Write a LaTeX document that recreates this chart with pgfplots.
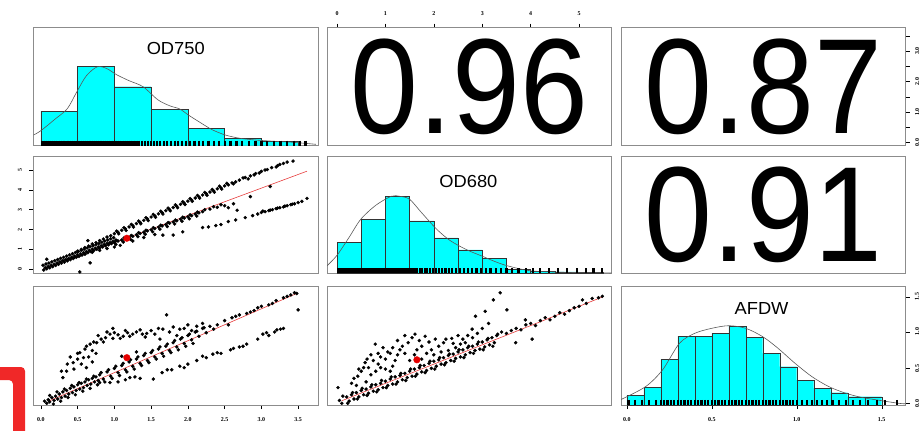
\documentclass[border=0pt]{standalone}
\usepackage{fontspec}
\setmainfont{Liberation Sans}
\newfontfamily\tickfont{Liberation Serif}
\usepackage{pgfplots}
\pgfplotsset{compat=1.18}
\definecolor{histcyan}{RGB}{0,255,255}
\definecolor{boxgray}{RGB}{140,140,140}
\definecolor{brightred}{RGB}{240,40,40}
\definecolor{fitred}{RGB}{230,60,60}
\tikzset{bignum/.style={font=\fontsize{136}{136}\selectfont, xscale=0.9, inner sep=0},
  varname/.style={font=\fontsize{17.5}{17.5}\selectfont, xscale=1.05, inner sep=0}}
\begin{document}
\begin{tikzpicture}
\useasboundingbox (0bp,0bp) rectangle (922bp,-431bp);
\pgfplotsset{
  panel/.style={scale only axis, width=284.5bp, axis line style={draw=boxgray, line width=0.7pt},
    xtick=\empty, ytick=\empty, tick align=outside, major tick length=4bp,
    tick style={black, line width=0.4pt},
    ticklabel style={font=\tickfont\bfseries\fontsize{6}{6}\selectfont},
    /pgf/number format/assume math mode=true, clip=true, anchor=south west},
  pts/.style={only marks, mark=*, mark size=1.55bp, mark options={draw=black, fill=black}},
  fit/.style={fitred, line width=0.6pt},
  mean/.style={only marks, mark=*, mark size=3.3bp, mark options={draw=red!90!black, fill=red!90!black}},
  hist/.style={ybar interval, fill=histcyan, draw=black!80, line width=0.4pt},
  dens/.style={draw=black!65, line width=0.6pt, smooth},
  rug/.style={only marks, mark=|, mark size=2.6bp, line width=2.2bp, mark options={draw=black, line width=2.2bp}},
  dec1/.style={/pgf/number format/.cd, fixed, fixed zerofill, precision=1},
}
% ---------- row 1 ----------
\begin{axis}[panel, at={(33.5bp,-145.7bp)}, height=118bp, xmin=-0.10, xmax=3.77, ymin=0, ymax=118]
\addplot[hist] coordinates {(0,34.7) (0.5,79.7) (1,59) (1.5,36.4) (2,17.4) (2.5,7.4) (3,4.7) (3.5,4.7)};
\addplot[dens] coordinates {(-0.1,10.7) (0,15) (0.2,27) (0.36,37) (0.49,54) (0.62,70) (0.77,79) (0.9,77) (1.03,71) (1.2,65) (1.39,59) (1.59,46) (1.75,40) (1.89,36.7) (2.0,31) (2.15,24) (2.33,16) (2.51,10.7) (2.7,7.5) (2.92,5.7) (3.2,4.3) (3.43,3.4) (3.74,1.4)};
\addplot[rug] coordinates {(0.02,2.6) (0.04,2.6) (0.07,2.6) (0.09,2.6) (0.12,2.6) (0.15,2.6) (0.18,2.6) (0.21,2.6) (0.24,2.6) (0.27,2.6) (0.3,2.6) (0.32,2.6) (0.35,2.6) (0.37,2.6) (0.4,2.6) (0.42,2.6) (0.45,2.6) (0.47,2.6) (0.5,2.6) (0.52,2.6) (0.55,2.6) (0.57,2.6) (0.6,2.6) (0.62,2.6) (0.65,2.6) (0.67,2.6) (0.7,2.6) (0.72,2.6) (0.75,2.6) (0.77,2.6) (0.8,2.6) (0.82,2.6) (0.85,2.6) (0.87,2.6) (0.9,2.6) (0.93,2.6) (0.96,2.6) (0.99,2.6) (1.02,2.6) (1.05,2.6) (1.08,2.6) (1.11,2.6) (1.14,2.6) (1.17,2.6) (1.2,2.6) (1.23,2.6) (1.26,2.6) (1.3,2.6) (1.34,2.6) (1.38,2.6) (1.42,2.6) (1.46,2.6) (1.5,2.6) (1.54,2.6) (1.58,2.6) (1.62,2.6) (1.67,2.6) (1.72,2.6) (1.77,2.6) (1.82,2.6) (1.87,2.6) (1.92,2.6) (1.97,2.6) (2.03,2.6) (2.09,2.6) (2.15,2.6) (2.21,2.6) (2.28,2.6) (2.35,2.6) (2.42,2.6) (2.5,2.6) (2.58,2.6) (2.66,2.6) (2.74,2.6) (2.83,2.6) (2.92,2.6) (3.0,2.6) (3.08,2.6) (3.17,2.6) (3.26,2.6) (3.35,2.6) (3.44,2.6) (3.52,2.6) (3.6,2.6)};
\node[varname] at (rel axis cs:0.5,0.825) {OD750};
\end{axis}
\begin{axis}[panel, at={(327bp,-145.7bp)}, height=118bp, xmin=-0.207, xmax=5.67, ymin=0, ymax=1,
  xtick={0,1,2,3,4,5}, xtick pos=right, xticklabel pos=right, xticklabel style={yshift=5bp}]
\node[bignum] at (rel axis cs:0.5,0.5) {0.96};
\end{axis}
\begin{axis}[panel, at={(621bp,-145.7bp)}, height=118bp, xmin=0, xmax=1, ymin=-0.10, ymax=3.77,
  ytick={0,0.5,1,1.5,2,2.5,3,3.5}, yticklabels={0.0,,1.0,,2.0,,3.0,}, ytick pos=right, yticklabel pos=right,
  yticklabel style={xshift=2bp, rotate=90, anchor=north}]
\node[bignum] at (rel axis cs:0.5,0.5) {0.87};
\end{axis}
% ---------- row 2 ----------
\begin{axis}[panel, at={(33.5bp,-273.3bp)}, height=116.6bp, xmin=-0.10, xmax=3.77, ymin=-0.207, ymax=5.67,
  ytick={0,1,2,3,4,5}, ytick pos=left, yticklabel style={xshift=-4bp, rotate=90, anchor=south}]
\addplot[pts] coordinates {
(0.04,-0.04) (0.06,0.08) (0.03,0.2) (0.08,0.02) (0.1,0.14) (0.07,0.26) (0.12,0.07) (0.14,0.19) (0.11,0.31) (0.16,0.13) (0.18,0.25) (0.15,0.37) (0.2,0.19) (0.22,0.31) (0.19,0.43) (0.24,0.25) (0.26,0.37) (0.23,0.49) (0.28,0.31) (0.3,0.43) (0.27,0.55) (0.32,0.36) (0.34,0.48) (0.31,0.6) (0.36,0.42) (0.38,0.54) (0.35,0.66) (0.4,0.48) (0.42,0.6) (0.39,0.72) (0.44,0.54) (0.46,0.66) (0.43,0.78) (0.48,0.6) (0.5,0.72) (0.47,0.84) (0.52,0.65) (0.54,0.77) (0.51,0.89) (0.56,0.71) (0.58,0.83) (0.55,0.95) (0.6,0.77) (0.62,0.89) (0.59,1.01) (0.64,0.83) (0.66,0.95) (0.63,1.07) (0.68,0.89) (0.7,1.01) (0.67,1.13) (0.72,0.94) (0.74,1.06) (0.71,1.18) (0.76,1.0) (0.78,1.12) (0.75,1.24) (0.8,1.06) (0.82,1.18) (0.79,1.3) (0.84,1.12) (0.86,1.24) (0.83,1.36) (0.88,1.18) (0.9,1.3) (0.87,1.42) (0.92,1.23) (0.94,1.35) (0.91,1.47) (0.96,1.29) (0.98,1.41) (0.95,1.53) (1.0,1.35) (1.02,1.47) (0.99,1.59)
(0.5,0.91) (0.55,1.0) (0.6,1.09) (0.65,1.17) (0.7,1.27) (0.75,1.34) (0.8,1.44) (0.85,1.52) (0.9,1.62) (0.95,1.69) (1.0,1.79) (1.05,1.86) (1.1,1.96) (1.15,2.03) (1.2,2.13) (1.25,2.2) (1.3,2.3) (1.35,2.36) (1.4,2.46) (1.45,2.53) (1.5,2.63) (1.55,2.69) (1.6,2.79) (1.65,2.85) (1.7,2.95) (1.75,3.01) (1.8,3.11) (1.85,3.17) (1.9,3.27) (1.95,3.33) (2.0,3.43) (2.05,3.49) (2.1,3.59) (2.15,3.65) (2.2,3.74) (2.25,3.8) (2.3,3.89) (2.35,3.95) (2.4,4.05) (2.45,4.1) (2.5,4.2) (2.55,4.25) (2.6,4.35) (2.65,4.4) (2.7,4.49) (2.78,4.62) (2.85,4.7) (2.92,4.82) (3.0,4.93) (3.08,5.02) (3.14,5.12) (3.22,5.22) (3.3,5.33) (3.43,5.45)
(1.03,1.92) (1.13,2.09) (1.23,2.26) (1.33,2.43) (1.43,2.59) (1.53,2.76) (1.63,2.92) (1.73,3.08) (1.83,3.24) (1.93,3.4) (2.03,3.56) (2.13,3.72) (2.23,3.87) (2.33,4.02) (2.43,4.18) (2.53,4.33)
(1.06,1.78) (1.16,1.95) (1.26,2.12) (1.36,2.29) (1.46,2.45) (1.56,2.62) (1.66,2.78) (1.76,2.94) (1.86,3.1) (1.96,3.26) (2.06,3.42) (2.16,3.58) (2.26,3.73) (2.36,3.88) (2.46,4.04)
(2.75,4.6) (2.9,4.75) (3.05,5.0) (3.2,5.15) (3.25,5.28) (3.35,5.4) (2.62,4.3) (2.82,4.55) (2.97,4.85)
(1.0,1.35) (1.05,1.42) (1.1,1.47) (1.15,1.55) (1.2,1.6) (1.25,1.66) (1.3,1.74) (1.35,1.8) (1.4,1.86) (1.45,1.93) (1.5,1.99) (1.55,2.05) (1.6,2.12) (1.65,2.18) (1.7,2.25) (1.75,2.32) (1.8,2.38) (1.85,2.44) (1.9,2.52) (1.95,2.58) (2.0,2.64) (2.05,2.7) (2.1,2.78) (2.15,2.84) (2.2,2.9) (2.3,3.03) (2.4,3.12) (2.5,3.2) (2.62,3.3) (2.85,3.66) (3.12,4.17) (2.67,2.97)
(1.03,1.45) (1.13,1.57) (1.23,1.7) (1.33,1.84) (1.43,1.96) (1.53,2.09) (1.63,2.22) (1.73,2.35) (1.83,2.48) (1.93,2.62) (2.03,2.74) (2.13,2.88) (2.23,3.0)
(1.02,1.25) (1.12,1.37) (1.22,1.5) (1.32,1.64) (1.42,1.76) (1.52,1.89) (1.62,2.02) (1.72,2.15) (1.82,2.28) (1.92,2.42) (2.02,2.54) (2.12,2.68) (2.45,3.25) (2.55,3.1) (2.35,3.15)
(0.6,0.76) (0.7,0.85) (0.8,0.95) (0.9,1.04) (1.0,1.12) (1.08,1.2) (1.25,1.42) (1.66,1.72) (1.8,1.72) (1.93,1.88) (2.2,2.1) (2.28,2.13) (2.38,2.2) (2.45,2.25) (2.55,2.4) (2.65,2.48) (2.78,2.6) (2.88,2.7) (2.95,2.78) (3.0,2.86) (3.05,2.9) (3.1,2.95) (3.15,3.0) (3.2,3.05) (3.25,3.1) (3.3,3.14) (3.35,3.2) (3.4,3.25) (3.45,3.3) (3.5,3.36) (3.55,3.42) (3.62,3.57)
(3.02,2.93) (3.12,2.98) (3.22,3.08) (3.32,3.18) (3.42,3.28)
(0.08,0.5) (0.53,-0.14) (0.64,1.44) (0.67,0.32) (1.4,1.6) (1.55,1.75)};
\addplot[fit] coordinates {(0.03,0) (3.62,4.94)};
\addplot[mean] coordinates {(1.17,1.56)};
\end{axis}
\begin{axis}[panel, at={(327bp,-273.3bp)}, height=116.6bp, xmin=-0.207, xmax=5.67, ymin=0, ymax=116.6]
\addplot[hist] coordinates {(0,31) (0.5,54) (1,77) (1.5,52.5) (2,35.5) (2.5,23.5) (3,15) (3.5,4) (4,2) (4.5,1.5) (5,1) (5.5,1)};
\addplot[dens] coordinates {(-0.207,7.5) (0,18) (0.25,36) (0.49,54) (0.8,68) (1.12,77) (1.3,77) (1.5,74) (1.74,61) (2.05,44.5) (2.3,34) (2.52,27.5) (2.75,22) (2.98,17.5) (3.25,12) (3.52,7.5) (4.0,2.5) (4.7,1) (5.45,0.5) (5.67,0.3)};
\addplot[rug] coordinates {(0.02,2.6) (0.05,2.6) (0.09,2.6) (0.13,2.6) (0.17,2.6) (0.21,2.6) (0.25,2.6) (0.29,2.6) (0.33,2.6) (0.37,2.6) (0.41,2.6) (0.45,2.6) (0.49,2.6) (0.53,2.6) (0.57,2.6) (0.61,2.6) (0.65,2.6) (0.69,2.6) (0.72,2.6) (0.76,2.6) (0.8,2.6) (0.83,2.6) (0.87,2.6) (0.9,2.6) (0.94,2.6) (0.97,2.6) (1.0,2.6) (1.04,2.6) (1.07,2.6) (1.1,2.6) (1.14,2.6) (1.17,2.6) (1.2,2.6) (1.24,2.6) (1.27,2.6) (1.3,2.6) (1.34,2.6) (1.37,2.6) (1.41,2.6) (1.45,2.6) (1.49,2.6) (1.53,2.6) (1.57,2.6) (1.62,2.6) (1.66,2.6) (1.71,2.6) (1.76,2.6) (1.81,2.6) (1.86,2.6) (1.92,2.6) (1.98,2.6) (2.04,2.6) (2.1,2.6) (2.17,2.6) (2.24,2.6) (2.31,2.6) (2.38,2.6) (2.46,2.6) (2.54,2.6) (2.62,2.6) (2.7,2.6) (2.79,2.6) (2.88,2.6) (2.97,2.6) (3.07,2.6) (3.17,2.6) (3.28,2.6) (3.39,2.6) (3.5,2.6) (3.62,2.6) (3.75,2.6) (3.9,2.6) (4.05,2.6) (4.2,2.6) (4.38,2.6) (4.56,2.6) (4.75,2.6) (4.95,2.6) (5.15,2.6) (5.3,2.6) (5.47,2.6)};
\node[varname] at (rel axis cs:0.497,0.79) {OD680};
\end{axis}
\begin{axis}[panel, at={(621bp,-273.3bp)}, height=116.6bp, xmin=0, xmax=1, ymin=0, ymax=1]
\node[bignum] at (rel axis cs:0.5,0.5) {0.91};
\end{axis}
% ---------- row 3 ----------
\begin{axis}[panel, at={(33.5bp,-405bp)}, height=118.3bp, xmin=-0.10, xmax=3.77, ymin=-0.024, ymax=1.635,
  xtick={0,0.5,1,1.5,2,2.5,3,3.5}, xtick pos=left, xticklabel style={yshift=-5bp, dec1}]
\addplot[pts] coordinates {
(0.05,0.03) (0.08,0.0) (0.1,0.05) (0.12,0.02) (0.15,0.08) (0.18,0.04) (0.2,0.1) (0.23,0.06) (0.25,0.13) (0.28,0.08) (0.3,0.16) (0.33,0.1) (0.35,0.18) (0.38,0.13) (0.4,0.21) (0.43,0.15) (0.45,0.23) (0.48,0.18) (0.5,0.26) (0.53,0.2) (0.55,0.28) (0.58,0.22) (0.6,0.3) (0.63,0.25) (0.65,0.33) (0.68,0.27) (0.7,0.35) (0.73,0.3) (0.75,0.37) (0.78,0.32) (0.8,0.4) (0.85,0.34) (0.9,0.44) (0.95,0.38) (1.0,0.49) (1.05,0.43) (1.1,0.53) (1.15,0.47) (1.2,0.58) (1.25,0.52) (1.3,0.62) (1.35,0.56) (1.4,0.67) (1.45,0.6) (1.5,0.71) (1.55,0.65) (1.6,0.76) (1.65,0.7) (1.7,0.8) (1.75,0.74) (1.8,0.85) (1.85,0.79) (1.9,0.9) (1.95,0.84) (2.0,0.95) (2.05,0.89) (2.1,1.0) (2.15,0.94) (2.2,1.05) (2.25,0.99) (2.3,1.08) (2.4,1.1) (2.5,1.16) (2.6,1.2) (2.7,1.24) (2.8,1.26) (2.9,1.3) (3.0,1.36) (3.1,1.38) (3.2,1.44) (3.3,1.48) (3.4,1.52) (3.48,1.54) (3.5,1.31)
(0.12,0.11) (0.22,0.16) (0.32,0.2) (0.42,0.25) (0.52,0.29) (0.62,0.34) (0.72,0.38) (0.82,0.43) (0.92,0.47) (1.02,0.52) (1.12,0.56) (1.22,0.61) (1.32,0.65) (1.42,0.7) (1.52,0.74) (1.62,0.79) (1.72,0.83) (1.82,0.88) (1.92,0.92) (2.02,0.97) (2.12,1.01) (2.22,1.06)
(0.17,-0.01) (0.27,0.03) (0.37,0.08) (0.47,0.12) (0.57,0.17) (0.67,0.21) (0.77,0.26) (0.87,0.3) (0.97,0.35) (1.07,0.39) (1.17,0.44) (1.27,0.48) (1.37,0.53) (1.47,0.57) (1.57,0.62) (1.67,0.66) (1.77,0.71) (1.87,0.75) (1.97,0.8) (2.07,0.84)
(2.35,1.04) (2.55,1.1) (2.65,1.22) (2.85,1.28) (2.95,1.34) (3.15,1.4) (3.35,1.5) (3.45,1.55)
(0.3,0.36) (0.35,0.45) (0.44,0.57) (0.5,0.62) (0.53,0.71) (0.6,0.76) (0.67,0.83) (0.72,0.86) (0.76,0.85) (0.82,0.9) (0.88,0.92) (0.94,0.97) (0.98,0.91) (1.05,0.96) (1.12,0.94) (1.18,0.99) (1.21,0.94) (1.3,1.0) (1.38,0.97) (1.44,0.98) (1.5,1.02) (1.6,1.05) (1.66,1.04) (1.71,1.24) (1.8,1.07) (1.89,1.04) (2.0,1.1) (2.12,1.08) (0.4,0.65) (0.55,0.55) (0.65,0.65) (0.75,0.7) (0.62,0.5) (0.7,0.58)
(0.45,0.48) (0.5,0.7) (0.58,0.64) (0.62,0.8) (0.7,0.74) (0.78,0.95) (0.85,0.86) (0.9,1.0) (1.0,0.99) (1.08,0.91) (1.15,1.02) (1.25,0.97) (1.35,1.03) (1.42,0.93) (1.55,0.97) (1.62,0.9) (1.75,1.0) (1.85,0.95) (1.95,1.05) (2.05,1.02) (2.2,1.12) (0.36,0.55) (0.28,0.45) (0.98,1.05) (1.1,0.66) (1.3,0.72)
(0.94,0.29) (1.05,0.3) (1.15,0.33) (1.21,0.36) (1.35,0.35) (1.53,0.34) (1.65,0.43) (1.78,0.47) (1.89,0.52) (2.0,0.55) (2.12,0.6) (2.25,0.64) (2.34,0.69) (2.45,0.7) (2.58,0.75) (2.7,0.79) (2.8,0.83) (2.95,0.9) (3.02,0.97) (3.1,0.95) (3.18,1.0) (3.26,1.04)
(0.8,0.29) (1.28,0.37) (1.72,0.47) (1.95,0.5) (2.2,0.66) (2.4,0.71) (2.62,0.77) (2.75,0.8) (3.07,0.99) (3.21,1.03) (3.3,1.05)};
\addplot[fit] coordinates {(0.12,0.036) (3.48,1.54)};
\addplot[mean] coordinates {(1.17,0.64)};
\end{axis}
\begin{axis}[panel, at={(327bp,-405bp)}, height=118.3bp, xmin=-0.207, xmax=5.67, ymin=-0.024, ymax=1.635]
\addplot[pts] coordinates {
(0.05,0.04) (0.1,0.0) (0.2,0.09) (0.25,0.03) (0.3,0.12) (0.35,0.06) (0.4,0.15) (0.45,0.09) (0.5,0.18) (0.55,0.12) (0.6,0.2) (0.65,0.14) (0.7,0.23) (0.75,0.17) (0.8,0.26) (0.85,0.19) (0.9,0.28) (0.95,0.22) (1.0,0.31) (1.05,0.25) (1.1,0.34) (1.15,0.27) (1.2,0.37) (1.25,0.3) (1.3,0.39) (1.35,0.33) (1.4,0.42) (1.45,0.36) (1.5,0.45) (1.55,0.38) (1.6,0.48) (1.65,0.41) (1.7,0.5) (1.75,0.44) (1.8,0.53) (1.85,0.46) (1.9,0.56) (1.95,0.49) (2.0,0.59) (2.05,0.52) (2.1,0.61) (2.15,0.55) (2.2,0.64) (2.25,0.57) (2.3,0.67) (2.35,0.6) (2.4,0.69) (2.45,0.63) (2.5,0.72) (2.55,0.65) (2.6,0.75) (2.65,0.68) (2.7,0.78) (2.75,0.71) (2.8,0.8) (2.85,0.74) (2.9,0.83) (2.95,0.76) (3.0,0.86) (3.05,0.79) (3.1,0.89) (3.15,0.82) (3.2,0.92) (3.25,0.85) (3.3,0.95) (3.4,1.0) (3.5,0.98) (3.6,1.02) (3.7,1.05) (3.8,1.03) (3.9,1.1) (4.0,1.12) (4.1,1.09) (4.2,1.16) (4.3,1.2) (4.4,1.17) (4.5,1.22) (4.6,1.27) (4.7,1.25) (4.8,1.3) (4.9,1.34) (5.0,1.36) (5.07,1.45) (5.15,1.4) (5.27,1.47) (5.4,1.48) (5.48,1.5)
(0.12,0.1) (0.32,0.15) (0.52,0.21) (0.72,0.26) (0.92,0.32) (1.12,0.37) (1.32,0.42) (1.52,0.48) (1.72,0.53) (1.92,0.59) (2.12,0.64) (2.32,0.69) (2.52,0.75) (2.72,0.8) (2.92,0.86) (3.12,0.91) (3.32,0.97)
(0.22,0.0) (0.42,0.06) (0.62,0.11) (0.82,0.16) (1.02,0.22) (1.22,0.27) (1.42,0.32) (1.62,0.38) (1.82,0.43) (2.02,0.48) (2.22,0.54) (2.42,0.59) (2.62,0.64) (2.82,0.7) (3.02,0.75) (3.22,0.8)
(3.37,1.55) (3.23,1.45) (3.06,1.29) (3.51,1.31) (2.86,1.22) (2.79,1.04) (3.13,1.12) (3.89,1.17) (4.03,0.9) (3.69,0.85)
(1.47,0.85) (1.55,0.92) (1.61,0.97) (1.7,0.88) (1.75,0.8) (1.82,0.94) (1.9,0.86) (2.03,0.9) (2.1,0.8) (2.2,0.85) (2.37,0.91) (2.45,0.78) (2.3,0.74) (1.65,0.75) (1.95,0.75) (2.55,0.83) (2.6,0.9) (2.7,0.95) (2.9,0.98) (3.0,1.05)
(0.79,0.83) (0.58,0.57) (0.43,0.38) (0.02,0.22) (0.5,0.45) (0.65,0.5) (0.75,0.6) (0.85,0.55) (0.9,0.65) (1.0,0.62) (1.1,0.7) (1.2,0.6) (1.3,0.75) (1.0,0.48) (0.7,0.4) (0.6,0.3) (0.4,0.25) (1.15,0.52) (1.25,0.68) (1.4,0.7)
(1.5,0.6) (1.6,0.68) (1.75,0.62) (1.85,0.7) (2.0,0.68) (2.15,0.72) (2.25,0.9) (2.4,0.84) (2.5,0.95) (2.65,0.85) (2.8,0.92) (1.35,0.8) (1.25,0.88) (1.4,0.95) (1.15,0.78) (1.05,0.72) (0.95,0.78) (0.85,0.7) (0.7,0.68) (0.62,0.62) (0.55,0.5) (0.45,0.48) (0.35,0.35) (0.3,0.28) (0.9,0.5) (1.1,0.45) (0.8,0.45)};
\addplot[fit] coordinates {(0.1,0.036) (5.48,1.49)};
\addplot[mean] coordinates {(1.65,0.61)};
\end{axis}
\begin{axis}[panel, at={(621bp,-405bp)}, height=118.3bp, xmin=-0.034, xmax=1.64, ymin=0, ymax=118.3,
  xtick={0,0.5,1,1.5}, xtick pos=left, xticklabel style={yshift=-5bp, dec1},
  ytick={1.7,36.7,73.3,108.3}, yticklabels={0.0,0.5,1.0,1.5}, ytick pos=right, yticklabel pos=right,
  yticklabel style={xshift=2bp, rotate=90, anchor=north}]
\addplot[hist] coordinates {(0,10) (0.1,17.7) (0.2,46) (0.3,69) (0.4,69) (0.5,71.7) (0.6,79) (0.7,67.7) (0.8,51.7) (0.9,38.3) (1.0,25) (1.1,16.7) (1.2,12.3) (1.3,8.3) (1.4,8.3) (1.5,8.3)};
\addplot[dens] coordinates {(-0.034,5.5) (0.11,18.3) (0.21,35) (0.31,61.7) (0.4,71.7) (0.5,76.7) (0.6,79.3) (0.7,76.7) (0.8,68.3) (0.89,56.7) (0.99,41.7) (1.09,28.3) (1.19,18.3) (1.29,11.7) (1.38,7.7) (1.5,4.3) (1.6,1.7) (1.64,1.2)};
\addplot[rug] coordinates {(0.01,2.6) (0.05,2.6) (0.09,2.6) (0.13,2.6) (0.17,2.6) (0.2,2.6) (0.22,2.6) (0.24,2.6) (0.26,2.6) (0.28,2.6) (0.3,2.6) (0.32,2.6) (0.34,2.6) (0.36,2.6) (0.38,2.6) (0.4,2.6) (0.42,2.6) (0.44,2.6) (0.46,2.6) (0.48,2.6) (0.5,2.6) (0.52,2.6) (0.54,2.6) (0.56,2.6) (0.58,2.6) (0.6,2.6) (0.62,2.6) (0.64,2.6) (0.66,2.6) (0.68,2.6) (0.7,2.6) (0.72,2.6) (0.74,2.6) (0.76,2.6) (0.78,2.6) (0.8,2.6) (0.82,2.6) (0.84,2.6) (0.86,2.6) (0.88,2.6) (0.9,2.6) (0.92,2.6) (0.94,2.6) (0.96,2.6) (0.98,2.6) (1.0,2.6) (1.03,2.6) (1.06,2.6) (1.09,2.6) (1.12,2.6) (1.15,2.6) (1.18,2.6) (1.21,2.6) (1.25,2.6) (1.29,2.6) (1.33,2.6) (1.37,2.6) (1.42,2.6) (1.47,2.6) (1.52,2.6) (1.59,2.6)};
\node[varname] at (rel axis cs:0.494,0.817) {AFDW};
\end{axis}
% decorative red bracket at the lower left
\fill[brightred, rounded corners=4bp] (-5bp,-367bp) -- (25bp,-367bp) -- (25bp,-440bp) -- (13bp,-440bp) -- (13bp,-380bp) -- (-5bp,-380bp) -- cycle;
\end{tikzpicture}
\end{document}
